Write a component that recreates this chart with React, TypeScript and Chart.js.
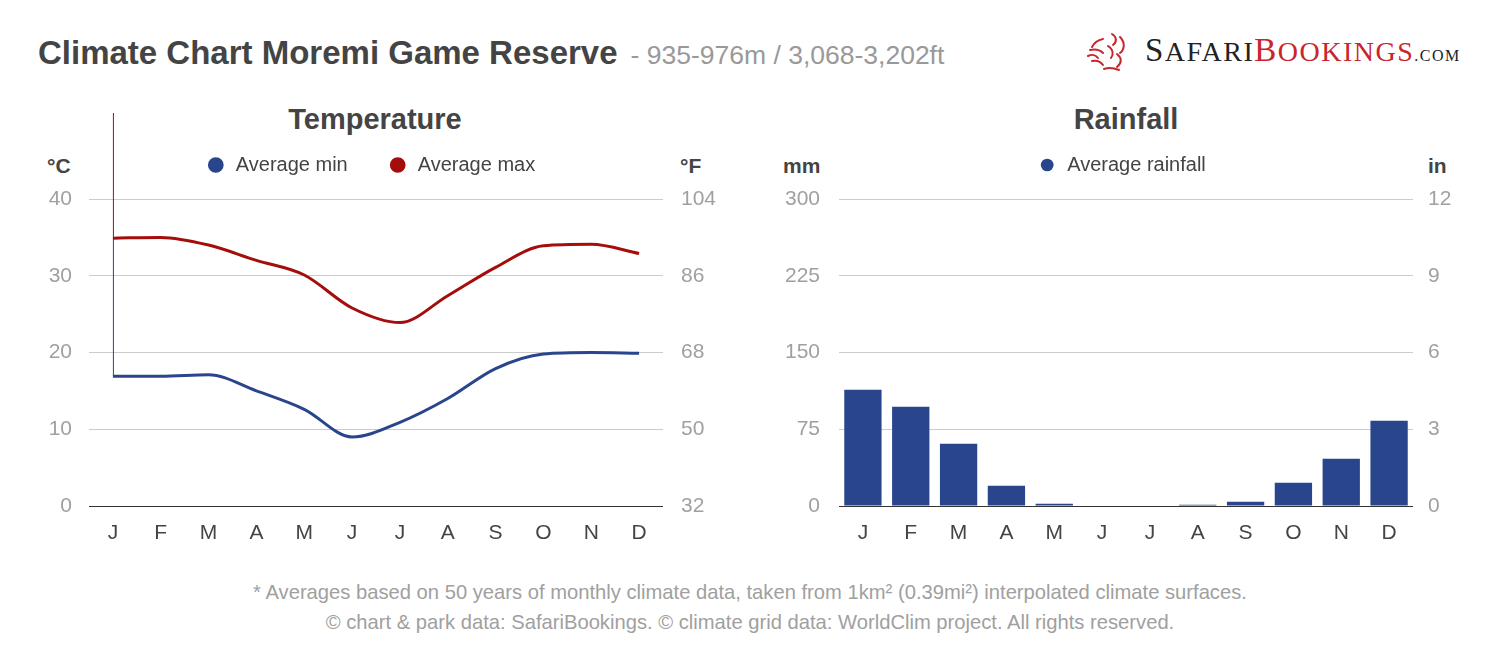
import React, { useEffect, useRef } from "react";
import { Chart, registerables } from "chart.js";

Chart.register(...registerables);

const months = ["J", "F", "M", "A", "M", "J", "J", "A", "S", "O", "N", "D"];
const avgMin = [16.9, 16.9, 17.1, 15.0, 12.6, 9.0, 10.9, 14.0, 17.9, 19.8, 20.0, 19.9];
const avgMax = [34.9, 35.0, 34.0, 32.0, 30.1, 25.8, 23.9, 27.4, 31.1, 33.9, 34.1, 32.9];
const rainfall = [113.5, 97.0, 60.9, 19.9, 2.3, 0.4, 0.4, 1.3, 4.2, 22.8, 46.2, 83.3];
const celsiusTicks = [0, 10, 20, 30, 40];
const fahrenheitTicks = [32, 50, 68, 86, 104];
const mmTicks = [0, 75, 150, 225, 300];
const inchTicks = [0, 3, 6, 9, 12];

const FONT = "'Liberation Sans', Arial, sans-serif";
const SERIF = "'Liberation Serif', 'DejaVu Serif', serif";
const BLUE = "#29458c";
const RED = "#a50d0d";
const LOGO_RED = "#c9252b";
const TICK = "#a0a0a0";
const DARK = "#444444";

const legendHeightPlugin = {
  id: "legendHeight",
  beforeLayout(chart: any, _args: any, opts: any) {
    const legend = chart.legend;
    if (legend && !legend.__patched) {
      const orig = legend.fit;
      legend.fit = function () {
        orig.call(this);
        if (opts && opts.height) this.height = opts.height;
      };
      legend.__patched = true;
    }
  },
};

const firstPointMarker = {
  id: "firstPointMarker",
  beforeDatasetsDraw(chart: any) {
    const x = chart.scales.x.getPixelForValue(0);
    const y = chart.scales.y;
    const yMax = y.getPixelForValue(avgMax[0]);
    const yMin = y.getPixelForValue(avgMin[0]);
    const ctx = chart.ctx;
    ctx.save();
    ctx.lineWidth = 1;
    ctx.strokeStyle = RED;
    ctx.beginPath();
    ctx.moveTo(x + 0.5, 0);
    ctx.lineTo(x + 0.5, yMax);
    ctx.stroke();
    ctx.strokeStyle = BLUE;
    ctx.beginPath();
    ctx.moveTo(x + 0.5, yMax);
    ctx.lineTo(x + 0.5, yMin);
    ctx.stroke();
    ctx.restore();
  },
};

function fixedWidth(w: number) {
  return (scale: any) => {
    scale.width = w;
  };
}

function yScale(min: number, max: number, ticks: number[], position: "left" | "right", grid: boolean, pad: number, width: number) {
  return {
    type: "linear",
    position,
    min,
    max,
    afterBuildTicks: (scale: any) => {
      scale.ticks = ticks.map((v) => ({ value: v }));
    },
    afterFit: fixedWidth(width),
    border: { display: false },
    grid: {
      display: grid,
      drawTicks: false,
      color: (c: any) => (c.tick && c.tick.value === 0 ? "#333333" : "#cccccc"),
      lineWidth: 1,
    },
    ticks: {
      padding: pad,
      color: TICK,
      font: { family: FONT, size: 21 },
    },
  };
}

const xScale = {
  type: "category",
  offset: true,
  afterFit: (s: any) => {
    s.height = 50;
  },
  border: { display: false },
  grid: { display: false, drawTicks: false },
  ticks: { padding: 15, color: DARK, font: { family: FONT, size: 21 }, maxRotation: 0, autoSkip: false },
};

const legendOpts = (height: number) => ({
  legend: {
    display: true,
    position: "top",
    align: "center",
    labels: {
      usePointStyle: true,
      pointStyle: "circle",
      boxHeight: 9,
      padding: 40,
      color: DARK,
      font: { family: FONT, size: 20 },
    },
  },
  legendHeight: { height },
  tooltip: { enabled: false },
  title: { display: false },
});

function TempChart() {
  const ref = useRef<HTMLCanvasElement>(null);
  useEffect(() => {
    const chart = new Chart(ref.current as HTMLCanvasElement, {
      type: "line",
      data: {
        labels: months,
        datasets: [
          {
            label: "Average min",
            data: avgMin,
            borderColor: BLUE,
            backgroundColor: BLUE,
            borderWidth: 3,
            pointRadius: 0,
            cubicInterpolationMode: "monotone",
            yAxisID: "y",
          },
          {
            label: "Average max",
            data: avgMax,
            borderColor: RED,
            backgroundColor: RED,
            borderWidth: 3,
            pointRadius: 0,
            cubicInterpolationMode: "monotone",
            yAxisID: "y",
          },
        ],
      },
      options: {
        animation: false,
        responsive: false,
        maintainAspectRatio: false,
        layout: { padding: { top: 2, left: 0, right: 19, bottom: 0 } },
        plugins: legendOpts(84) as any,
        scales: {
          x: xScale as any,
          y: yScale(0, 40, celsiusTicks, "left", true, 17, 69) as any,
          yF: yScale(32, 104, fahrenheitTicks, "right", false, 18, 58) as any,
        },
      },
      plugins: [legendHeightPlugin, firstPointMarker],
    });
    return () => chart.destroy();
  }, []);
  return <canvas ref={ref} width={720} height={443} style={{ width: 720, height: 443 }} />;
}

function RainChart() {
  const ref = useRef<HTMLCanvasElement>(null);
  useEffect(() => {
    const chart = new Chart(ref.current as HTMLCanvasElement, {
      type: "bar",
      data: {
        labels: months,
        datasets: [
          {
            label: "Average rainfall",
            data: rainfall,
            backgroundColor: BLUE,
            borderWidth: 0,
            categoryPercentage: 1,
            barPercentage: 0.78,
            yAxisID: "y",
          },
        ],
      },
      options: {
        animation: false,
        responsive: false,
        maintainAspectRatio: false,
        layout: { padding: { top: 2, left: 0, right: 17, bottom: 0 } },
        plugins: legendOpts(84) as any,
        scales: {
          x: xScale as any,
          y: yScale(0, 300, mmTicks, "left", true, 19, 69) as any,
          yIn: yScale(0, 12, inchTicks, "right", false, 15, 60) as any,
        },
      },
      plugins: [legendHeightPlugin],
    });
    return () => chart.destroy();
  }, []);
  return <canvas ref={ref} width={720} height={443} style={{ width: 720, height: 443 }} />;
}

function Logo() {
  const big = 33;
  const small = 28;
  return (
    <div style={{ position: "absolute", left: 1086, top: 30, height: 42 }}>
      <svg width="46" height="40" viewBox="0 0 46 40" style={{ position: "absolute", left: 0, top: 2 }}>
        <g fill="none" stroke={LOGO_RED} strokeWidth="2" strokeLinecap="round">
          <path d="M26 2 C 31 5, 31 10, 27 13" />
          <path d="M34 5 C 39 10, 39 17, 34 21" />
          <path d="M17 7 C 12 8, 8 11, 6 15" />
          <path d="M4 18 C 9 17, 14 18, 17 21" />
          <path d="M2 24 C 6 22, 10 23, 12 26" />
          <path d="M6 29 C 11 28, 15 30, 17 33" />
          <path d="M22 14 C 27 17, 28 22, 25 26" />
          <path d="M31 22 C 36 26, 36 31, 31 35" />
          <path d="M18 37 C 23 35, 28 36, 33 38" />
        </g>
      </svg>
      <div style={{ position: "absolute", left: 59, top: 0, whiteSpace: "nowrap", fontFamily: SERIF, lineHeight: "40px", letterSpacing: 1.5 }}>
        <span style={{ color: "#222", fontSize: big }}>S</span>
        <span style={{ color: "#222", fontSize: small }}>AFARI</span>
        <span style={{ color: LOGO_RED, fontSize: big }}>B</span>
        <span style={{ color: LOGO_RED, fontSize: small }}>OOKINGS</span>
        <span style={{ color: "#222", fontSize: 16 }}>.COM</span>
      </div>
    </div>
  );
}

export default function App() {
  useEffect(() => {
    document.body.style.margin = "0";
  }, []);
  const abs = (l: number, t: number): React.CSSProperties => ({ position: "absolute", left: l, top: t });
  const unit: React.CSSProperties = { fontWeight: "bold", fontSize: 21, color: DARK, lineHeight: "26px" };
  const chartTitle: React.CSSProperties = { width: 574, textAlign: "center", fontWeight: "bold", fontSize: 29, color: DARK, lineHeight: "36px" };
  return (
    <div style={{ position: "relative", width: 1500, height: 652, background: "#fff", fontFamily: FONT, overflow: "hidden" }}>
      <div style={{ ...abs(38, 33), whiteSpace: "nowrap", lineHeight: "40px" }}>
        <span style={{ fontWeight: "bold", fontSize: 33, color: DARK }}>Climate Chart Moremi Game Reserve</span>
        <span style={{ fontSize: 26.5, color: "#999", marginLeft: 13 }}>- 935-976m / 3,068-3,202ft</span>
      </div>
      <Logo />

      <div style={{ ...abs(88, 101), ...chartTitle }}>Temperature</div>
      <div style={{ ...abs(839, 101), ...chartTitle }}>Rainfall</div>

      <div style={{ ...abs(47, 153), ...unit }}>°C</div>
      <div style={{ ...abs(680, 153), ...unit }}>°F</div>
      <div style={{ ...abs(783, 153), ...unit }}>mm</div>
      <div style={{ ...abs(1428, 153), ...unit }}>in</div>

      <div style={abs(20, 113)}>
        <TempChart />
      </div>
      <div style={abs(770, 113)}>
        <RainChart />
      </div>

      <div style={{ position: "absolute", left: 0, top: 577, width: 1500, textAlign: "center", fontSize: 20.2, color: "#a0a0a0", lineHeight: "30px" }}>
        <div>* Averages based on 50 years of monthly climate data, taken from 1km² (0.39mi²) interpolated climate surfaces.</div>
        <div>© chart &amp; park data: SafariBookings. © climate grid data: WorldClim project. All rights reserved.</div>
      </div>
    </div>
  );
}
